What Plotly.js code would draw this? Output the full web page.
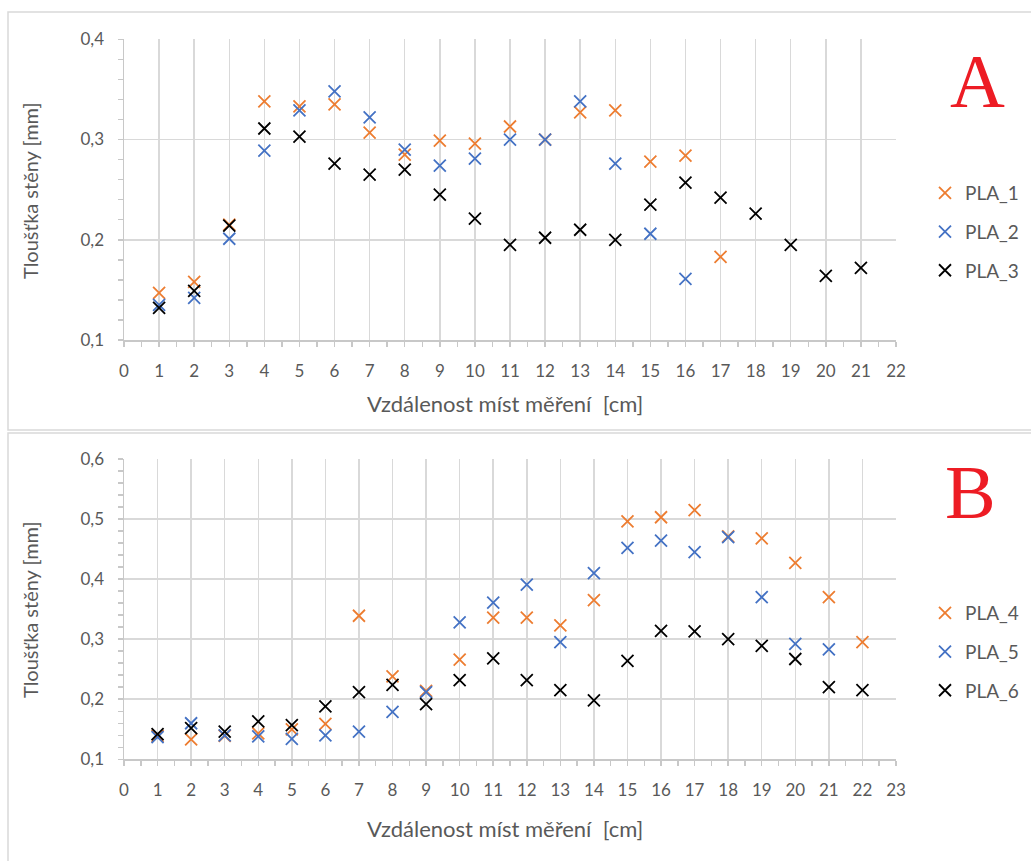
<!DOCTYPE html>
<html>
<head>
<meta charset="utf-8">
<script src="https://cdn.plot.ly/plotly-3.0.1.min.js"></script>
<style>html,body{margin:0;padding:0;background:#fff;}</style>
</head>
<body>
<div id="chart" style="width:1031px;height:861px;"></div>
<script>
// ---- data ----
const posA = [1,2,3,4,5,6,7,8,9,10,11,12,13,14,15,16,17,18,19,20,21];
const PLA_1 = [0.147,0.158,0.215,0.338,0.333,0.335,0.307,0.285,0.299,0.296,0.313,0.300,0.327,0.329,0.278,0.284,0.183];
const PLA_2 = [0.135,0.142,0.201,0.289,0.329,0.348,0.322,0.290,0.274,0.281,0.300,0.300,0.338,0.276,0.206,0.161];
const PLA_3 = [0.132,0.149,0.214,0.311,0.303,0.276,0.265,0.270,0.245,0.221,0.195,0.202,0.210,0.200,0.235,0.257,0.242,0.226,0.195,0.164,0.172];

const posB = [1,2,3,4,5,6,7,8,9,10,11,12,13,14,15,16,17,18,19,20,21,22];
const PLA_4 = [0.139,0.133,0.139,0.143,0.150,0.159,0.339,0.238,0.214,0.266,0.336,0.336,0.323,0.365,0.496,0.503,0.515,0.471,0.468,0.427,0.370,0.295];
const PLA_5 = [0.137,0.160,0.140,0.138,0.134,0.140,0.146,0.179,0.212,0.328,0.361,0.391,0.295,0.410,0.452,0.464,0.445,0.470,0.370,0.292,0.283];
const PLA_6 = [0.142,0.152,0.146,0.163,0.157,0.188,0.212,0.224,0.192,0.232,0.268,0.232,0.215,0.198,0.264,0.314,0.313,0.300,0.289,0.267,0.220,0.215];

const xTitle = "Vzdálenost míst měření \u00a0[cm]";
const yTitle = "Tloušťka stěny [mm]";

// ---- styling ----
const W = 1031, H = 861;
const px = v => v / W;
const py = v => 1 - v / H;
const ORANGE = "#ED7D31", BLUE = "#4472C4", BLACK = "#000000";
const FONT = "Lato, Carlito, 'Open Sans', sans-serif";
const GRID = "#d9d9d9", LINE = "#c8c8c8", TXT = "#595959";

function tr(x, y, name, color, xa, ya, legend) {
  return {
    type: "scatter", mode: "markers", name: name,
    x: x.slice(0, y.length), y: y, xaxis: xa, yaxis: ya,
    legend: legend, legendgroup: name,
    marker: { symbol: "x-thin", size: 12, color: color, line: { color: color, width: 1.8 } },
    hoverinfo: "x+y+name"
  };
}

const data = [
  tr(posA, PLA_1, "PLA_1", ORANGE, "x", "y", "legend"),
  tr(posA, PLA_2, "PLA_2", BLUE, "x", "y", "legend"),
  tr(posA, PLA_3, "PLA_3", BLACK, "x", "y", "legend"),
  tr(posB, PLA_4, "PLA_4", ORANGE, "x2", "y2", "legend2"),
  tr(posB, PLA_5, "PLA_5", BLUE, "x2", "y2", "legend2"),
  tr(posB, PLA_6, "PLA_6", BLACK, "x2", "y2", "legend2")
];

function xax(domain, range, anchor) {
  return {
    domain: domain, range: range, anchor: anchor, dtick: 1, tick0: 0,
    showgrid: true, gridcolor: GRID, gridwidth: 1.5, zeroline: false,
    showline: true, linecolor: LINE, linewidth: 1.5,
    ticks: "outside", ticklen: 5, tickcolor: LINE, tickwidth: 1.5,
    minor: { dtick: 0.5, ticks: "outside", ticklen: 5, tickcolor: LINE, tickwidth: 1.5, showgrid: false },
    ticklabelstandoff: 10,
    tickfont: { family: FONT, size: 17, color: TXT },
    fixedrange: true
  };
}
function yax(domain, range, anchor) {
  return {
    domain: domain, range: range, anchor: anchor, dtick: 0.1, tick0: 0, tickformat: ".1f",
    showgrid: true, gridcolor: GRID, gridwidth: 1.5, zeroline: false,
    showline: true, linecolor: LINE, linewidth: 1.5,
    ticks: "outside", ticklen: 5, tickcolor: LINE, tickwidth: 1.5,
    minor: { dtick: 0.02, ticks: "outside", ticklen: 5, tickcolor: LINE, tickwidth: 1.5, showgrid: false },
    ticklabelstandoff: 10,
    tickfont: { family: FONT, size: 17, color: TXT },
    fixedrange: true
  };
}

const legendBase = {
  font: { family: FONT, size: 19, color: TXT },
  bgcolor: "rgba(0,0,0,0)", borderwidth: 0,
  xanchor: "left", yanchor: "top", tracegroupgap: 11, itemwidth: 30
};

const layout = {
  width: W, height: H,
  margin: { l: 0, r: 0, t: 0, b: 0 },
  paper_bgcolor: "#ffffff", plot_bgcolor: "#ffffff",
  separators: ", ",
  font: { family: FONT, color: TXT },
  showlegend: true,
  xaxis: xax([px(124), px(896)], [0, 22], "y"),
  yaxis: yax([py(340), py(39.3)], [0.1, 0.4], "x"),
  xaxis2: xax([px(124), px(896)], [0, 23], "y2"),
  yaxis2: yax([py(759.3), py(459)], [0.1, 0.6], "x2"),
  legend: Object.assign({}, legendBase, { x: px(925), y: py(174) }),
  legend2: Object.assign({}, legendBase, { x: px(925), y: py(594) }),
  shapes: [
    { type: "rect", xref: "paper", yref: "paper", x0: px(8), x1: 1.02, y0: py(430), y1: py(12),
      line: { color: GRID, width: 1.5 }, fillcolor: "rgba(0,0,0,0)", layer: "below" },
    { type: "rect", xref: "paper", yref: "paper", x0: px(8), x1: 1.02, y0: -0.02, y1: py(433),
      line: { color: GRID, width: 1.5 }, fillcolor: "rgba(0,0,0,0)", layer: "below" }
  ],
  annotations: [
    { text: "A", xref: "paper", yref: "paper", x: px(977), y: py(81), showarrow: false,
      xanchor: "center", yanchor: "middle", font: { family: "'Liberation Serif', 'DejaVu Serif', serif", size: 76, color: "#ED1C24" } },
    { text: "B", xref: "paper", yref: "paper", x: px(970), y: py(492), showarrow: false,
      xanchor: "center", yanchor: "middle", font: { family: "'Liberation Serif', 'DejaVu Serif', serif", size: 76, color: "#ED1C24" } },
    { text: xTitle, xref: "paper", yref: "paper", x: px(505), y: py(404), showarrow: false,
      xanchor: "center", yanchor: "middle", font: { family: FONT, size: 22, color: TXT } },
    { text: xTitle, xref: "paper", yref: "paper", x: px(505), y: py(828), showarrow: false,
      xanchor: "center", yanchor: "middle", font: { family: FONT, size: 22, color: TXT } },
    { text: yTitle, xref: "paper", yref: "paper", x: px(30), y: py(191), showarrow: false, textangle: -90,
      xanchor: "center", yanchor: "middle", font: { family: FONT, size: 20, color: TXT } },
    { text: yTitle, xref: "paper", yref: "paper", x: px(30), y: py(610), showarrow: false, textangle: -90,
      xanchor: "center", yanchor: "middle", font: { family: FONT, size: 20, color: TXT } }
  ]
};

Plotly.newPlot("chart", data, layout, { displayModeBar: false, staticPlot: true });
</script>
</body>
</html>
